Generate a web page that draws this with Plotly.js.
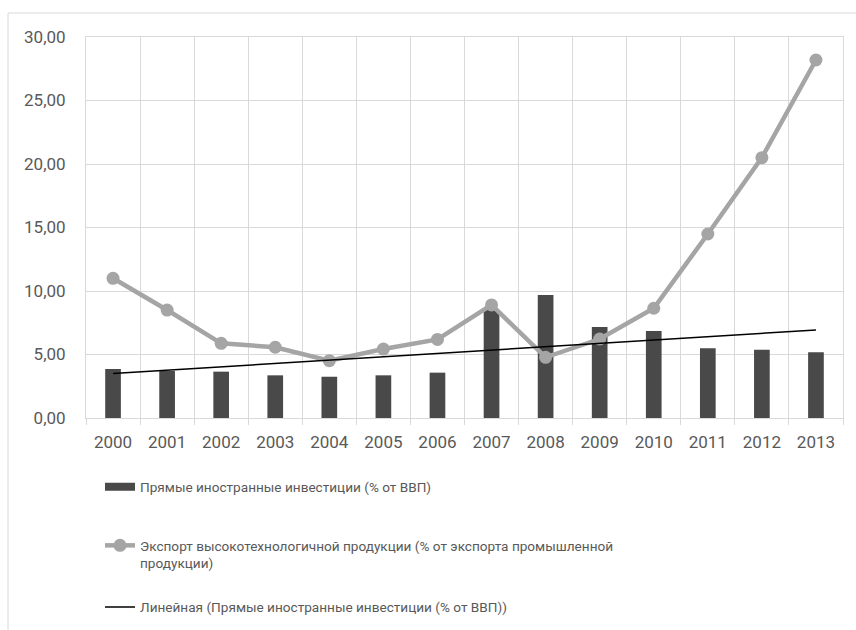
<!DOCTYPE html>
<html>
<head>
<meta charset="utf-8">
<script src="https://cdn.plot.ly/plotly-3.0.1.min.js"></script>
<style>html,body{margin:0;padding:0;background:#fff;}#chart{width:856px;height:630px;}</style>
</head>
<body>
<div id="chart"></div>
<script>
var years = ['2000','2001','2002','2003','2004','2005','2006','2007','2008','2009','2010','2011','2012','2013'];
var fdi = [3.86, 3.70, 3.65, 3.36, 3.25, 3.36, 3.57, 8.50, 9.69, 7.17, 6.85, 5.49, 5.38, 5.17];
var hitech = [11.00, 8.50, 5.88, 5.57, 4.51, 5.43, 6.19, 8.90, 4.78, 6.22, 8.64, 14.49, 20.50, 28.19];
var nameFdi = 'Прямые иностранные инвестиции (% от ВВП)';
var nameHitech = 'Экспорт высокотехнологичной продукции (% от экспорта промышленной<br>продукции)';
var nameTrend = 'Линейная (Прямые иностранные инвестиции (% от ВВП))';

// linear trend of FDI computed from the data (least squares)
var n = fdi.length, sx = 0, sy = 0, sxy = 0, sxx = 0;
for (var i = 0; i < n; i++) { var xi = i + 1; sx += xi; sy += fdi[i]; sxy += xi * fdi[i]; sxx += xi * xi; }
var slope = (n * sxy - sx * sy) / (n * sxx - sx * sx);
var icpt = (sy - slope * sx) / n;
var trend = fdi.map(function (_, i) { return icpt + slope * (i + 1); });

var font = 'Roboto, Open Sans, sans-serif';
var txt = '#595959';

var traces = [
  { type: 'bar', x: years, y: fdi, name: nameFdi, marker: { color: '#494949' }, width: 0.29, showlegend: false, hoverinfo: 'y' },
  { type: 'scatter', mode: 'lines', x: [years[0]], y: [null], name: nameFdi, line: { color: '#494949', width: 8 }, legend: 'legend', showlegend: true },
  { type: 'scatter', mode: 'lines+markers', x: years, y: hitech, name: nameHitech,
    line: { color: '#a5a5a5', width: 4.5 }, marker: { color: '#a5a5a5', size: 13 }, legend: 'legend2' },
  { type: 'scatter', mode: 'lines', x: years, y: trend, name: nameTrend,
    line: { color: '#000000', width: 1.5 }, legend: 'legend3' }
];

var legBase = { bgcolor: 'rgba(0,0,0,0)', font: { family: font, size: 13.6, color: txt }, xanchor: 'left', yanchor: 'top', itemclick: false };

var layout = {
  width: 856, height: 630,
  margin: { l: 86, r: 13, t: 37, b: 212, autoexpand: false },
  paper_bgcolor: '#ffffff', plot_bgcolor: '#ffffff',
  separators: ', ',
  font: { family: font, color: txt },
  xaxis: {
    type: 'category', range: [-0.5, 13.5], tickson: 'boundaries', showgrid: true, gridcolor: '#d9d9d9', gridwidth: 1,
    ticks: 'outside', ticklen: 6, tickcolor: '#d9d9d9', ticklabelstandoff: 9,
    showline: true, linecolor: '#d9d9d9', mirror: true,
    tickfont: { family: font, size: 17, color: txt }, fixedrange: true
  },
  yaxis: {
    range: [0, 30], dtick: 5, tickformat: '.2f', showgrid: true, gridcolor: '#d9d9d9', gridwidth: 1,
    zeroline: false, showline: true, linecolor: '#d9d9d9', mirror: true, ticks: '',
    ticklabelstandoff: 16,
    tickfont: { family: font, size: 17, color: txt }, fixedrange: true
  },
  legend: Object.assign({}, legBase, { x: 0.0185, y: -0.14 }),
  legend2: Object.assign({}, legBase, { x: 0.0185, y: -0.294, valign: 'top' }),
  legend3: Object.assign({}, legBase, { x: 0.0185, y: -0.456 }),
  shapes: [
    { type: 'rect', xref: 'paper', yref: 'paper', x0: -0.103, x1: 1.2, y0: -0.8, y1: 1.063,
      line: { color: '#d9d9d9', width: 1 }, fillcolor: 'rgba(0,0,0,0)', layer: 'below' }
  ],
  showlegend: true
};

Plotly.newPlot('chart', traces, layout, { displayModeBar: false, staticPlot: true });
</script>
</body>
</html>
